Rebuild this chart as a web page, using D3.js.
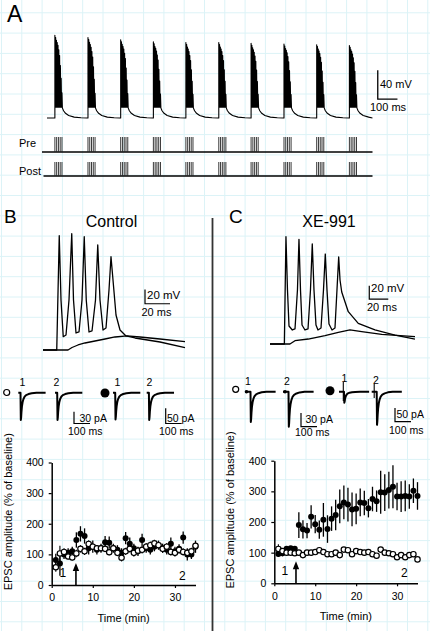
<!DOCTYPE html>
<html><head><meta charset="utf-8">
<script src="https://cdn.jsdelivr.net/npm/d3@7"></script>
<style>
body{margin:0;background:#fff}
svg{display:block;font-family:Arial,"Liberation Sans",sans-serif}
</style>
</head><body>
<svg id="c" width="430" height="631"></svg>
<script>
// ---------------- DATA ----------------
// Panel A: theta-burst pairing trace
const aBurstOnsets = [40,208,374,540,705,872,1036,1203,1369,1535];   // ms
const aBurstPeaks  = [44,41,38,35,34,34,33,32,31,30];                // mV
const aSpikeOffsets = [0,4,8,12,16,20,24,28,32,36];                 // ms within burst
const aSpikeRel     = [1,0.97,0.93,0.9,0.86,0.8,0.72,0.58,0.4,0.2];
const aPlateau = -55, aRest = -70, aTraceEnd = 1652;
const aDecayT = [0,6,16,32,60,95,126];
const aDecayV = [-56,-60,-63.5,-66.5,-68.8,-69.7,-70];
const rasterOffsets = [0,9,18,27,36];                                // ms within burst

// Panel B/C current-clamp traces [ms, mV]
const bSpike = [[0,-70],[11,-70],[13,89.9],[14.4,-0.1],[16.2,-51.4],[18.4,-49],[20.8,0],[23,92.7],[24.4,0],[26.4,-46.2],[28.8,-44.8],[31.2,0],[33,88.5],[34.6,0],[36.8,-44.8],[39.2,-43.4],[42,0],[43.8,76.9],[45.6,0],[48,-42],[50.4,-39.2],[52.8,13.9],[54.4,60.5],[56,27.9],[58.4,-21],[61.6,-42],[66.4,-50.4],[73.6,-53.2],[93.6,-58.8],[113.6,-66.8]];
const bSub = [[0,-70],[20,-70],[23.2,-66.5],[28,-63],[33.6,-60.2],[41.6,-57.4],[49.6,-54.6],[57.6,-51.8],[67.2,-50.3],[77.6,-51.8],[93.6,-54.6],[113.6,-58.4]];
const cSpike = [[0,-70],[15.1,-70],[16.8,91.4],[18.4,11.2],[20,-42.9],[23.5,-48.9],[26.3,-47.4],[28.9,11.2],[30.5,87.4],[32.1,11.2],[33.7,-41.4],[36.8,-48.9],[40,-47.4],[42.6,11.2],[44.5,80.4],[46.3,11.2],[48.4,-41.4],[50.5,-48.9],[53.7,-45.9],[56.3,11.2],[58.2,65.3],[60,11.2],[62.1,-39.9],[65.3,-48.9],[68.4,-45.9],[70.5,11.2],[72.3,60.8],[73.7,26.2],[75.5,8.2],[82.4,-21.4],[92.9,-38.9],[110.5,-48.9],[131.6,-56.5],[152.6,-62.5]];
const cSub = [[0,-70],[21,-70],[26.3,-65],[40.3,-62.5],[57.9,-57.5],[71.9,-52.4],[84.2,-48.9],[96.5,-51.5],[117.6,-55.4],[152.6,-59]];

// EPSC sample traces: template (ms, normalised) and amplitudes (pA)
const epscT = [0,2,4,6,9,13,18,25,35,50,70,100,130,157];
const epscN = [0,-1,-0.9,-0.7,-0.5,-0.35,-0.24,-0.15,-0.09,-0.05,-0.02,0,0,0];
const bEpscAmp = [70,70,100,102];
const cEpscAmp = [68,79,41,124];

// Time course plots
const minutes = d3.range(1,36);
const bFilled = [82,70,100,105,110,147,167,160,120,125,115,120,140,138,120,115,105,153,135,120,110,147,120,115,125,130,120,115,135,110,118,155,100,100,125];
const bFilledErr = [20,40,15,15,15,25,25,25,20,20,15,15,20,20,15,15,15,20,20,15,15,20,15,15,15,15,15,15,20,15,15,20,20,15,20];
const bOpen = [58,103,108,93,90,103,118,110,134,125,120,120,118,107,120,105,89,110,118,105,112,115,125,130,136,130,118,125,108,105,115,108,105,110,128];
const bOpenErr = [15,25,12,10,10,12,12,12,12,10,10,10,10,10,10,10,12,12,12,12,12,12,12,12,12,12,12,12,12,12,12,12,12,12,12];
const cFilled = [96,98,113,114,113,190,176,172,217,193,175,207,177,211,223,251,264,257,241,243,264,262,245,275,268,297,296,304,315,283,283,285,283,302,285];
const cFilledErr = [10,10,8,8,8,42,30,25,38,30,30,55,45,40,50,55,55,55,55,50,45,40,30,40,35,70,60,60,70,45,50,50,40,40,45];
const cOpen = [112,105,100,100,98,100,92,100,100,102,108,102,95,95,100,92,110,108,95,105,102,100,102,95,90,110,100,98,95,85,92,85,92,95,78];
const cOpenErr = [15,8,8,8,8,8,8,8,8,8,8,8,8,8,8,8,8,8,8,8,8,8,8,8,8,8,8,8,8,8,8,8,8,8,8];
const yTicks = [0,100,200,300,400];
const xTicks = [0,10,20,30];

// ---------------- DRAW ----------------
const svg = d3.select('#c');
const K = '#000';

// background grid
const grid = svg.append('g').attr('stroke','#dcf3f7').attr('stroke-width',1);
d3.range(1.5,431,20.3).forEach(x=>grid.append('line').attr('x1',x).attr('x2',x).attr('y1',0).attr('y2',631));
d3.range(12.8,631,20.3).forEach(y=>grid.append('line').attr('y1',y).attr('y2',y).attr('x1',0).attr('x2',430));

function txt(x,y,s,size,anchor){
  return svg.append('text').attr('x',x).attr('y',y).attr('font-size',size).attr('text-anchor',anchor||'start').attr('fill',K).text(s);
}
function line(pts){ return d3.line()(pts); }

// ---- Panel A ----
txt(7,22,'A',23);
const aX = d3.scaleLinear().domain([0,1700]).range([47,47+1700*0.197]);
const aY = d3.scaleLinear().domain([-70,-30]).range([118,89]);
let pts=[[0,aRest]];
aBurstOnsets.forEach((on,i)=>{
  pts.push([on,aRest]);
  aSpikeOffsets.forEach((o,j)=>{
    const pk = aPlateau + (aBurstPeaks[i]-aPlateau)*aSpikeRel[j];
    pts.push([on+o,pk]); pts.push([on+o+2,aPlateau]);
  });
  const end = on + aSpikeOffsets[aSpikeOffsets.length-1] + 2;
  const next = i<aBurstOnsets.length-1 ? aBurstOnsets[i+1] : aTraceEnd;
  aDecayT.forEach((d,k)=>{ if(end+d<next) pts.push([end+d,aDecayV[k]]); });
});
pts.push([aTraceEnd,aRest]);
svg.append('path').attr('d',d3.line().x(d=>aX(d[0])).y(d=>aY(d[1]))(pts))
  .attr('fill','none').attr('stroke',K).attr('stroke-width',1.1).attr('stroke-linejoin','round');
// A scale bar
const sbT=1679, sbV=-44;
svg.append('path').attr('d',line([[aX(sbT),aY(sbV+40)],[aX(sbT),aY(sbV)],[aX(sbT+100),aY(sbV)]]))
  .attr('fill','none').attr('stroke',K).attr('stroke-width',1.3);
txt(380,87.5,'40 mV',11);
txt(370,111,'100 ms',11);

// rasters
[[ 'Pre',152,137,146.5,42],[ 'Post',176,162,175,43.5]].forEach(([lab,yb,yt,ty,x0])=>{
  txt(19,ty,lab,11);
  svg.append('line').attr('x1',x0).attr('x2',372.5).attr('y1',yb).attr('y2',yb).attr('stroke',K).attr('stroke-width',1.5);
  const g=svg.append('g').attr('stroke','#222').attr('stroke-width',0.9);
  aBurstOnsets.forEach(on=>rasterOffsets.forEach(o=>{
    const x=aX(on+o); g.append('line').attr('x1',x).attr('x2',x).attr('y1',yt).attr('y2',yb);
  }));
});

// ---- divider ----
svg.append('line').attr('x1',212.5).attr('x2',212.5).attr('y1',218).attr('y2',631).attr('stroke','#333').attr('stroke-width',1.8);

// ---- B / C labels ----
txt(4,223,'B',19); txt(229,223,'C',19);
txt(111.5,226.5,'Control',16,'middle');
txt(329,226.5,'XE-991',16,'middle');

function ccPanel(x0,y0,pxMs,pxMv,spike,sub,bar){
  const x=d3.scaleLinear().domain([0,100]).range([x0,x0+100*pxMs]);
  const y=d3.scaleLinear().domain([-70,30]).range([y0,y0-100*pxMv]);
  const lg=d3.line().x(d=>x(d[0])).y(d=>y(d[1]));
  [sub,spike].forEach(tr=>svg.append('path').attr('d',lg(tr)).attr('fill','none').attr('stroke',K).attr('stroke-width',1.3).attr('stroke-linejoin','round'));
  const [bt,bv]=bar;
  svg.append('path').attr('d',line([[x(bt),y(bv+20)],[x(bt),y(bv)],[x(bt+20),y(bv)]])).attr('fill','none').attr('stroke',K).attr('stroke-width',1.2);
  return {x,y};
}
const B=ccPanel(43,350,1.25,0.715,bSpike,bSub,[81.6,-5.3]);
txt(147,299,'20 mV',11.5); txt(141.5,315.5,'20 ms',11);
const C=ccPanel(270,344,0.95,0.665,cSpike,cSub,[104.5,-2.5]);
txt(371,292,'20 mV',11.5); txt(367,311,'20 ms',11);

// ---- EPSC traces ----
function epsc(xs,yb,amp,pxPa,onsetPx){
  const xsc=d3.scaleLinear().domain([0,100]).range([xs+onsetPx,xs+onsetPx+16]);
  const ysc=d3.scaleLinear().domain([0,-100]).range([yb,yb+100*pxPa]);
  const p=[[xs,yb]].concat(epscT.map((t,i)=>[xsc(t),ysc(amp*epscN[i])]));
  p[p.length-1][0]=Math.max(p[p.length-1][0],xs+25);
  svg.append('path').attr('d',line(p)).attr('fill','none').attr('stroke',K).attr('stroke-width',2).attr('stroke-linejoin','round');
}
// B row
svg.append('circle').attr('cx',6.7).attr('cy',392.5).attr('r',3).attr('fill','#fff').attr('stroke',K).attr('stroke-width',1.2);
svg.append('circle').attr('cx',105).attr('cy',393).attr('r',4.5).attr('fill',K);
epsc(18.3,392.7,bEpscAmp[0],0.39,2.2);
epsc(55,392.7,bEpscAmp[1],0.39,2.2);
epsc(113,392.7,bEpscAmp[2],0.267,2.2);
epsc(146.7,392.7,bEpscAmp[3],0.267,2.2);
txt(19.5,385.5,'1',10.5); txt(53.5,385.5,'2',10.5); txt(114.5,385.5,'1',10.5); txt(146.5,385.5,'2',10.5);
svg.append('path').attr('d',line([[74,411.7],[74,423.5],[90,423.5]])).attr('fill','none').attr('stroke',K).attr('stroke-width',1.2);
txt(79.5,421.5,'30 pA',10.5); txt(68,435,'100 ms',10.5);
svg.append('path').attr('d',line([[165.7,408.3],[165.7,423.5],[181.7,423.5]])).attr('fill','none').attr('stroke',K).attr('stroke-width',1.2);
txt(167,421.5,'50 pA',10.5); txt(159,435,'100 ms',10.5);
// C row
svg.append('circle').attr('cx',235.7).attr('cy',389.3).attr('r',3).attr('fill','#fff').attr('stroke',K).attr('stroke-width',1.2);
svg.append('circle').attr('cx',330).attr('cy',390.7).attr('r',4.5).attr('fill',K);
epsc(245,391.7,cEpscAmp[0],0.444,5.5);
epsc(283,391.7,cEpscAmp[1],0.444,5.5);
epsc(339,391.7,cEpscAmp[2],0.267,5);
epsc(371.7,391.7,cEpscAmp[3],0.267,5);
[[246.5,391.7],[285,391.7]].forEach(([x,y])=>svg.append('circle').attr('cx',x).attr('cy',y).attr('r',1.8).attr('fill',K));
[[343.3,382,401],[374.2,384,398]].forEach(([x,a,b])=>svg.append('line').attr('x1',x).attr('x2',x).attr('y1',a).attr('y2',b).attr('stroke',K).attr('stroke-width',1.1));
txt(245,385,'1',10.5); txt(284,385,'2',10.5); txt(341.5,382,'1',10.5); txt(373,384,'2',10.5);
svg.append('path').attr('d',line([[301,413],[301,426.7],[317,426.7]])).attr('fill','none').attr('stroke',K).attr('stroke-width',1.2);
txt(305.5,423.3,'30 pA',10.5); txt(295,436,'100 ms',10.5);
svg.append('path').attr('d',line([[395,408],[395,421.7],[411,421.7]])).attr('fill','none').attr('stroke',K).attr('stroke-width',1.2);
txt(396.5,418.3,'50 pA',10.5); txt(389,434,'100 ms',10.5);

// ---- time-course plots ----
function tplot(xr,yr,fM,fE,oM,oE,labX,lab1,lab2,arrowT){
  const x=d3.scaleLinear().domain([0,35]).range(xr);
  const y=d3.scaleLinear().domain([0,400]).range(yr);
  const g=svg.append('g');
  const ya=g.append('g').attr('transform',`translate(${xr[0]},0)`).call(d3.axisLeft(y).tickValues(yTicks).tickSize(3).tickSizeOuter(0).tickPadding(5));
  const xa=g.append('g').attr('transform',`translate(0,${yr[0]})`).call(d3.axisBottom(x).tickValues(xTicks).tickSize(3).tickSizeOuter(0).tickPadding(6));
  [ya,xa].forEach(a=>{a.selectAll('text').attr('font-size',10.5).attr('fill',K).attr('font-family','Arial,"Liberation Sans",sans-serif');
    a.select('.domain').attr('stroke-width',1.5).attr('stroke',K); a.selectAll('line').attr('stroke',K).attr('stroke-width',1.2);});
  txt((xr[0]+xr[1])/2,yr[0]+37,'Time (min)',11,'middle');
  svg.append('text').attr('transform',`translate(${labX},${(yr[0]+yr[1])/2-12}) rotate(-90)`).attr('text-anchor','middle').attr('dy','0.35em').attr('font-size',11).attr('fill',K).text('EPSC amplitude (% of baseline)');
  // error bars + markers
  const eg=g.append('g').attr('stroke',K).attr('stroke-width',1.3);
  minutes.forEach((t,i)=>{eg.append('line').attr('x1',x(t)).attr('x2',x(t)).attr('y1',y(fM[i]-fE[i])).attr('y2',y(fM[i]+fE[i]));});
  g.selectAll(null).data(minutes).enter().append('circle').attr('cx',d=>x(d)).attr('cy',(d,i)=>y(fM[i])).attr('r',3).attr('fill',K);
  const og=g.append('g').attr('stroke',K).attr('stroke-width',1.1);
  minutes.forEach((t,i)=>{og.append('line').attr('x1',x(t)).attr('x2',x(t)).attr('y1',y(oM[i]-oE[i])).attr('y2',y(oM[i]+oE[i]));});
  g.selectAll(null).data(minutes).enter().append('circle').attr('cx',d=>x(d)).attr('cy',(d,i)=>y(oM[i])).attr('r',2.7).attr('fill','#fff').attr('stroke',K).attr('stroke-width',1.2);
  // labels 1, 2 and arrow
  txt(x(lab1[0]),y(lab1[1]),'1',12,'middle');
  txt(x(lab2[0]),y(lab2[1]),'2',12,'middle');
  const ax=x(arrowT), tip=y(72);
  g.append('line').attr('x1',ax).attr('x2',ax).attr('y1',y(0)).attr('y2',tip+5).attr('stroke',K).attr('stroke-width',1.6);
  g.append('path').attr('d',line([[ax,tip],[ax-3.2,tip+8],[ax+3.2,tip+8]])+'Z').attr('fill',K);
}
tplot([51.7,195.5],[585,462.5],bFilled,bFilledErr,bOpen,bOpenErr,8.5,[2.7,26],[31.8,16],5.9);
tplot([274.3,417.5],[583.3,460.7],cFilled,cFilledErr,cOpen,cOpenErr,230,[2.6,27],[31.8,20],5.3);
</script>
</body></html>
